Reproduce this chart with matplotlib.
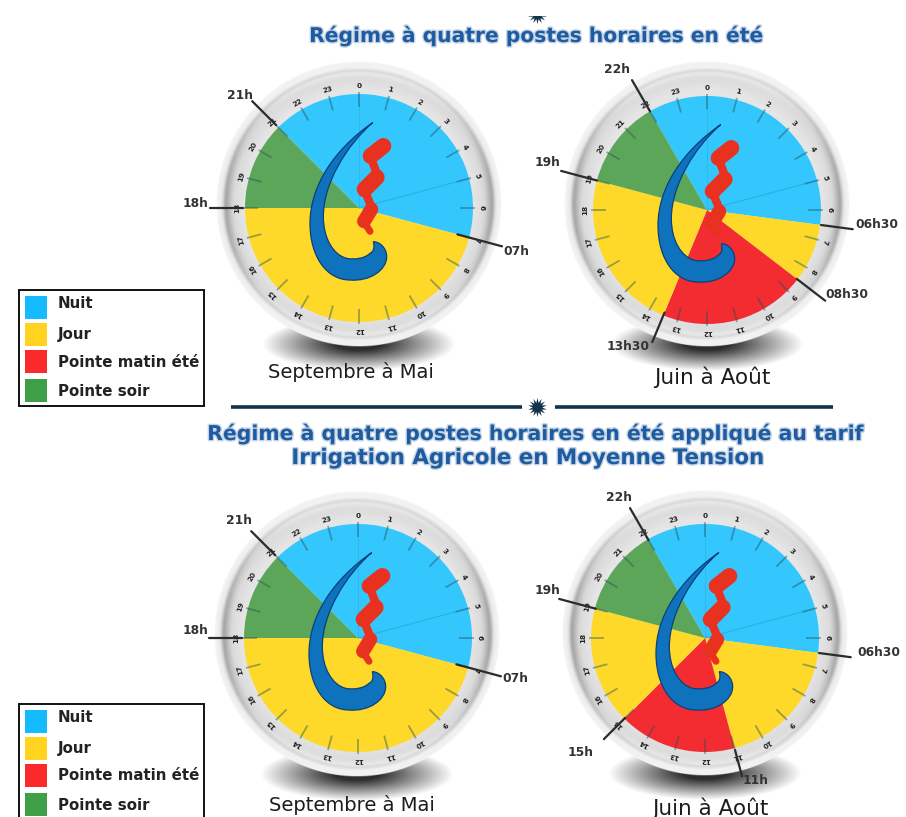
import numpy as np
import matplotlib
matplotlib.use('Agg')
import matplotlib.pyplot as plt
import matplotlib.patheffects as pe
from matplotlib.patches import Wedge, Rectangle, PathPatch
from matplotlib.path import Path

# Les postes horaires (heures de debut et de fin de chaque secteur)
postes = ['Nuit', 'Jour', 'Pointe matin été', 'Pointe soir']

ete_debut = [21, 7, 18]
ete_fin = [7, 18, 21]
ete_poste = ['Nuit', 'Jour', 'Pointe soir']

juin_debut = [22, 6.5, 8.5, 13.5, 19]
juin_fin = [6.5, 8.5, 13.5, 19, 22]
juin_poste = ['Nuit', 'Jour', 'Pointe matin été', 'Jour', 'Pointe soir']

irrig_debut = [22, 6.5, 11, 15, 19]
irrig_fin = [6.5, 11, 15, 19, 22]
irrig_poste = ['Nuit', 'Jour', 'Pointe matin été', 'Jour', 'Pointe soir']

ete_heures = [21, 18, 7]
ete_labels = ['21h', '18h', '07h']
juin_heures = [22, 19, 6.5, 8.5, 13.5]
juin_labels = ['22h', '19h', '06h30', '08h30', '13h30']
irrig_heures = [22, 19, 6.5, 15, 11]
irrig_labels = ['22h', '19h', '06h30', '15h', '11h']

heures = list(range(24))

titre_1 = 'Régime à quatre postes horaires en été'
titre_2a = 'Régime à quatre postes horaires en été appliqué au tarif'
titre_2b = 'Irrigation Agricole en Moyenne Tension'

# Couleurs
coul_cadran = {'Nuit': '#33c7fd', 'Jour': '#fed929', 'Pointe matin été': '#f22c30', 'Pointe soir': '#5ca65a'}
coul_legende = {'Nuit': '#14bcff', 'Jour': '#ffd31f', 'Pointe matin été': '#fb2a2a', 'Pointe soir': '#3f9f47'}
bleu_titre = '#1f5b9f'
noir = '#222222'

# Figure en pixels: un seul axes qui couvre tout
fig = plt.figure(figsize=(9.06, 8.17), dpi=100)
ax = fig.add_axes([0, 0, 1, 1])
ax.axis('off')

police = 'DejaVu Sans'


def gris_cadran(taille=400):
    # degrade radial du boitier, plus sombre sur les cotes
    g = np.linspace(-1.0, 1.0, taille)
    x, y = np.meshgrid(g, g)
    r = np.hypot(x, y)
    ang = np.arctan2(y, x)
    v = np.interp(r, [0, 0.80, 0.88, 0.915, 0.935, 0.96, 1.0],
                  [0.90, 0.90, 0.86, 0.82, 0.76, 0.93, 0.96])
    cote = np.abs(np.cos(ang)) ** 4
    anneau = np.exp(-((r - 0.925) / 0.03) ** 2)
    v = v - 0.12 * cote * anneau + 0.10 * (1 - cote) * anneau
    img = np.zeros((taille, taille, 4))
    img[..., 0] = v
    img[..., 1] = v
    img[..., 2] = v
    img[..., 3] = np.clip((1.0 - r) * taille / 2, 0, 1)
    return img


def ombre(taille=200):
    g = np.linspace(-1.0, 1.0, taille)
    x, y = np.meshgrid(g, g)
    d = np.sqrt(x ** 2 + y ** 2)
    a = np.clip(1.3 - 1.3 * d, 0, 1)
    img = np.zeros((taille, taille, 4))
    img[..., 0:3] = 0.18
    img[..., 3] = a
    return img


def logo(cx, cy):
    # le logo est decrit dans un repere 3x, avec le centre du cadran en (207, 294)
    def p(pts):
        return [(cx + (a - 207) / 3, cy + (b - 294) / 3) for a, b in pts]

    sommets = p([(248, 38), (130, 120), (60, 230), (60, 340),
                 (60, 440), (110, 510), (180, 510),
                 (240, 515), (290, 480), (290, 440),
                 (290, 415), (270, 395), (250, 395),
                 (255, 415), (250, 425), (240, 430),
                 (225, 445), (195, 450), (170, 445),
                 (130, 435), (100, 385), (100, 320),
                 (100, 220), (170, 105), (248, 38)])
    codes = [Path.MOVETO] + [Path.CURVE4] * 24
    ax.add_patch(PathPatch(Path(sommets, codes), fc='#0f72bd', ec='#0c3f7c', lw=0.9, zorder=6))

    # le ruban rouge: trois lobes epais et des liaisons plus fines
    rouge = '#e8321f'
    for pts, ep in [([(280, 108), (242, 138)], 11.5),
                    ([(242, 142), (262, 194)], 6.0),
                    ([(260, 202), (224, 238)], 11.5),
                    ([(224, 242), (244, 290)], 6.0),
                    ([(244, 298), (222, 334)], 10.0),
                    ([(222, 336), (240, 364)], 5.0)]:
        q = p(pts)
        ax.plot([q[0][0], q[1][0]], [q[0][1], q[1][1]], color=rouge, lw=ep,
                solid_capstyle='round', zorder=6)


def cadran(cx, cy, bx, by, debut, fin, poste, heures_rep, labels_rep, pos_labels, r_int, r_ext):
    R = 114
    B = 143

    # ombre sous le cadran
    ax.imshow(ombre(), extent=(bx - 97, bx + 97, by + 167, by + 113), zorder=1, aspect='auto')
    # boitier
    ax.imshow(gris_cadran(), extent=(bx - B, bx + B, by + B, by - B), zorder=2, aspect='auto')

    # secteurs, 0h en haut et sens horaire (axe y inverse)
    for d, f, nom in zip(debut, fin, poste):
        ax.add_patch(Wedge((cx, cy), R, d * 15 - 90, f * 15 - 90, fc=coul_cadran[nom], ec='none', zorder=3))

    # graduations et heures autour du cadran
    for h in heures:
        a = np.radians(h * 15 - 90)
        ax.plot([cx + 101 * np.cos(a), cx + 116 * np.cos(a)],
                [cy + 101 * np.sin(a), cy + 116 * np.sin(a)],
                color='#24505c', alpha=0.45, lw=1.3, zorder=4, solid_capstyle='butt')
        ax.text(cx + 122 * np.cos(a), cy + 122 * np.sin(a), str(h), fontsize=5.2, color=noir,
                fontweight='bold', ha='center', va='center', rotation=-h * 15,
                rotation_mode='anchor', family=police, zorder=5)

    # traits tres fins du fond
    a = np.radians(5 * 15 - 90)
    ax.plot([cx, cx + R * np.cos(a)], [cy, cy + R * np.sin(a)], color='#1a78a8', alpha=0.3, lw=0.8, zorder=4)
    ax.plot([cx, cx], [cy, cy - R], color='#1a78a8', alpha=0.2, lw=0.6, zorder=4)

    logo(cx, cy)

    # reperes des heures de changement de poste
    for h, lab, (lx, ly, hal), ri, re in zip(heures_rep, labels_rep, pos_labels, r_int, r_ext):
        a = np.radians(h * 15 - 90)
        ax.plot([cx + ri * np.cos(a), cx + re * np.cos(a)],
                [cy + ri * np.sin(a), cy + re * np.sin(a)],
                color='#2b2b2b', lw=1.6, zorder=7, solid_capstyle='round')
        ax.text(lx, ly, lab, fontsize=8.8, color='#333333', fontweight='bold', ha=hal, va='center',
                family=police, zorder=8)


def legende(y0, y1):
    ax.add_patch(Rectangle((19, y0), 185, y1 - y0, fc='white', ec='#111111', lw=1.4, zorder=2))
    pas = [6, 33, 60, 89]
    pas_texte = [14, 44, 72, 101]
    for nom, d, t in zip(postes, pas, pas_texte):
        ax.add_patch(Rectangle((25, y0 + d), 22, 23, fc=coul_legende[nom], ec='none', zorder=3))
        ax.text(58, y0 + t, nom, fontsize=10.8, fontweight='bold', color='#222222', va='center',
                ha='left', family=police, zorder=4)


# Regime ete, partie haute
cadran(359, 208, 359, 204, ete_debut, ete_fin, ete_poste, ete_heures, ete_labels,
       [(240, 95, 'center'), (208, 203, 'right'), (503, 251, 'left')],
       [117, 116, 102], [151, 149, 148])
cadran(707, 210, 707, 204, juin_debut, juin_fin, juin_poste, juin_heures, juin_labels,
       [(617, 69, 'center'), (547, 162, 'center'), (855, 224, 'left'), (825, 295, 'left'), (628, 346, 'center')],
       [114, 114, 115, 113, 111], [150, 151, 147, 149, 143])

# Irrigation agricole, partie basse
cadran(358, 638, 357, 634, ete_debut, ete_fin, ete_poste, ete_heures, ete_labels,
       [(239, 521, 'center'), (208, 631, 'right'), (502, 678, 'left')],
       [117, 116, 102], [151, 149, 148])
cadran(705, 638, 705, 633, irrig_debut, irrig_fin, irrig_poste, irrig_heures, irrig_labels,
       [(619, 497, 'center'), (547, 591, 'center'), (857, 652, 'left'), (581, 753, 'center'), (756, 781, 'center')],
       [113, 113, 115, 113, 116], [150, 151, 147, 143, 143])

# Titres
effet = [pe.withStroke(linewidth=2.0, foreground='#c3d3e6')]
ax.text(536, 36, titre_1, fontsize=14.6, fontweight='bold', color=bleu_titre, ha='center', va='center',
        family=police, path_effects=effet, zorder=9)
ax.text(536, 434, titre_2a, fontsize=14.7, fontweight='bold', color=bleu_titre, ha='center', va='center',
        family=police, path_effects=effet, zorder=9)
ax.text(527, 458, titre_2b, fontsize=15.4, fontweight='bold', color=bleu_titre, ha='center', va='center',
        family=police, path_effects=effet, zorder=9)

# Sous-titres des cadrans
for x, y, s, t in [(351, 372, 'Septembre à Mai', 14.0), (712, 377, 'Juin à Août', 15.5),
                   (352, 805, 'Septembre à Mai', 14.0), (710, 808, 'Juin à Août', 15.5)]:
    ax.text(x, y, s, fontsize=t, color='#1c1c1c', ha='center', va='center', family=police, zorder=9)

# Separateur et etoiles
ax.plot([231, 522], [407, 407], color='#12334a', lw=2.6, solid_capstyle='butt', zorder=2)
ax.plot([555, 833], [407, 407], color='#12334a', lw=2.6, solid_capstyle='butt', zorder=2)
ax.scatter([537, 537], [407, 14], marker=(14, 1, 0), s=190, color='#12334a', linewidths=0, zorder=3)
ax.add_patch(Rectangle((500, 0), 80, 16, fc='white', ec='none', zorder=4))

legende(290, 406)
legende(704, 830)

ax.set_xlim(0, 906)
ax.set_ylim(817, 0)

plt.savefig('out.png', dpi=100)
